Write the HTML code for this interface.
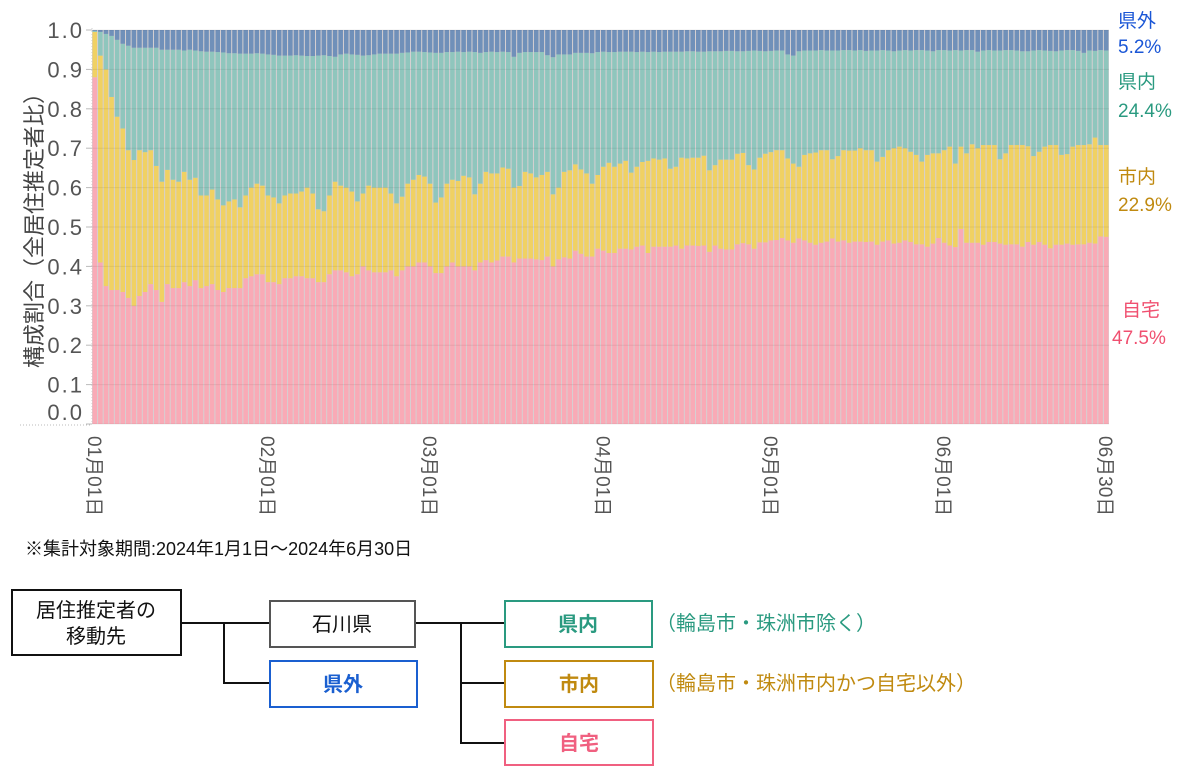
<!DOCTYPE html>
<html><head><meta charset="utf-8">
<style>
body{margin:0;background:#fff;}
svg{display:block;font-family:"Liberation Sans","Noto Sans CJK JP",sans-serif;}
</style></head>
<body>
<svg id="svg" width="1200" height="780" viewBox="0 0 1200 780">
<g id="plot"></g>
<g id="yaxis"></g>
<g id="xaxis"></g>
<text transform="translate(42,225) rotate(-90)" text-anchor="middle" font-size="22" fill="#444">構成割合（全居住推定者比）</text>
<g font-size="19">
<text x="1118" y="27" fill="#1a56d6">県外</text>
<text x="1118" y="53" fill="#1a56d6">5.2%</text>
<text x="1118" y="88" fill="#2a9a80">県内</text>
<text x="1118" y="117" fill="#2a9a80">24.4%</text>
<text x="1118" y="183" fill="#c08a10">市内</text>
<text x="1118" y="211" fill="#c08a10">22.9%</text>
<text x="1122" y="316" fill="#f05070">自宅</text>
<text x="1112" y="344" fill="#f05070">47.5%</text>
</g>
<text x="25" y="555" font-size="18" fill="#111">※集計対象期間:2024年1月1日〜2024年6月30日</text>
<g font-size="20">
<g fill="none" stroke="#111" stroke-width="2">
<path d="M181,623 H270 M224,623 V683 H270 M415,623 H505 M461,623 V743 H505 M461,683 H505"/>
</g>
<rect x="12" y="590" width="169" height="65" fill="#fff" stroke="#111" stroke-width="2"/>
<text x="96" y="617" text-anchor="middle" fill="#111">居住推定者の</text>
<text x="96" y="643" text-anchor="middle" fill="#111">移動先</text>
<rect x="270" y="601" width="145" height="46" fill="#fff" stroke="#555" stroke-width="2"/>
<text x="342" y="631" text-anchor="middle" fill="#111">石川県</text>
<rect x="270" y="661" width="147" height="46" fill="#fff" stroke="#1a5fd0" stroke-width="2"/>
<text x="343" y="691" text-anchor="middle" fill="#1a5fd0" font-weight="bold">県外</text>
<rect x="505" y="601" width="147" height="46" fill="#fff" stroke="#2a9a80" stroke-width="2"/>
<text x="578" y="631" text-anchor="middle" fill="#2a9a80" font-weight="bold">県内</text>
<rect x="505" y="661" width="148" height="46" fill="#fff" stroke="#c08a10" stroke-width="2"/>
<text x="579" y="691" text-anchor="middle" fill="#c08a10" font-weight="bold">市内</text>
<rect x="505" y="720" width="148" height="45" fill="#fff" stroke="#f06080" stroke-width="2"/>
<text x="579" y="750" text-anchor="middle" fill="#f06080" font-weight="bold">自宅</text>
<text x="656" y="630" fill="#2a9a80">（輪島市・珠洲市除く）</text>
<text x="656" y="690" fill="#c08a10">（輪島市・珠洲市内かつ自宅以外）</text>
</g>
</svg>
<script>
// cumulative shares (stack boundaries) per day, Jan 1 .. Jun 30 2024
const cumJitaku = [
0.88,0.41,0.35,0.34,0.34,0.335,0.32,0.30,0.325,0.335,
0.355,0.34,0.31,0.355,0.345,0.345,0.36,0.35,0.365,0.345,
0.35,0.355,0.34,0.335,0.345,0.345,0.345,0.37,0.375,0.38,
0.38,0.36,0.36,0.355,0.37,0.37,0.375,0.375,0.37,0.37,
0.36,0.36,0.38,0.39,0.39,0.385,0.375,0.38,0.40,0.39,
0.385,0.385,0.385,0.39,0.375,0.39,0.40,0.40,0.41,0.41,
0.40,0.383,0.383,0.40,0.41,0.40,0.40,0.40,0.39,0.41,
0.416,0.41,0.415,0.425,0.425,0.41,0.42,0.42,0.42,0.418,
0.416,0.425,0.40,0.418,0.423,0.42,0.44,0.432,0.425,0.425,
0.445,0.44,0.434,0.434,0.445,0.445,0.443,0.45,0.453,0.434,
0.45,0.45,0.45,0.45,0.453,0.445,0.453,0.453,0.452,0.453,
0.437,0.453,0.445,0.443,0.443,0.456,0.459,0.456,0.445,0.461,
0.461,0.466,0.467,0.472,0.466,0.460,0.471,0.466,0.460,0.455,
0.460,0.463,0.471,0.463,0.466,0.460,0.463,0.463,0.462,0.463,
0.455,0.463,0.466,0.458,0.460,0.466,0.462,0.456,0.456,0.450,
0.458,0.472,0.460,0.453,0.449,0.495,0.460,0.460,0.460,0.455,
0.462,0.462,0.458,0.455,0.456,0.456,0.450,0.462,0.455,0.462,
0.455,0.446,0.455,0.455,0.458,0.455,0.456,0.456,0.460,0.458,
0.476,0.475];
const cumShinai = [
0.995,0.935,0.90,0.83,0.78,0.75,0.695,0.67,0.695,0.69,
0.695,0.655,0.615,0.645,0.62,0.615,0.64,0.62,0.625,0.58,
0.58,0.595,0.57,0.555,0.565,0.57,0.55,0.58,0.60,0.61,
0.605,0.58,0.575,0.56,0.58,0.585,0.585,0.59,0.60,0.585,
0.545,0.54,0.58,0.615,0.605,0.60,0.59,0.565,0.585,0.605,
0.60,0.60,0.60,0.585,0.56,0.577,0.61,0.62,0.632,0.628,
0.61,0.562,0.575,0.61,0.62,0.617,0.63,0.626,0.583,0.61,
0.64,0.636,0.636,0.651,0.648,0.60,0.604,0.64,0.636,0.626,
0.632,0.64,0.583,0.60,0.64,0.644,0.659,0.646,0.636,0.61,
0.632,0.653,0.663,0.653,0.661,0.668,0.638,0.653,0.665,0.668,
0.674,0.671,0.674,0.648,0.653,0.676,0.674,0.676,0.676,0.681,
0.644,0.657,0.671,0.671,0.671,0.686,0.688,0.657,0.646,0.676,
0.686,0.69,0.695,0.695,0.674,0.661,0.653,0.683,0.687,0.689,
0.695,0.695,0.672,0.680,0.695,0.694,0.694,0.700,0.695,0.695,
0.666,0.678,0.695,0.700,0.704,0.700,0.691,0.683,0.666,0.683,
0.687,0.687,0.695,0.704,0.661,0.704,0.687,0.710,0.700,0.708,
0.708,0.708,0.672,0.687,0.708,0.708,0.708,0.705,0.680,0.691,
0.704,0.708,0.708,0.683,0.685,0.704,0.708,0.708,0.710,0.727,
0.708,0.708];
const cumKennai = [
0.998,0.995,0.99,0.985,0.975,0.965,0.96,0.955,0.955,0.955,
0.955,0.955,0.95,0.95,0.95,0.95,0.948,0.95,0.948,0.946,
0.945,0.945,0.944,0.943,0.941,0.941,0.94,0.94,0.94,0.941,
0.94,0.938,0.937,0.935,0.935,0.935,0.936,0.935,0.934,0.934,
0.935,0.936,0.934,0.932,0.938,0.94,0.938,0.937,0.935,0.936,
0.938,0.94,0.94,0.94,0.94,0.942,0.943,0.945,0.945,0.944,
0.943,0.942,0.942,0.944,0.944,0.945,0.944,0.945,0.944,0.942,
0.944,0.945,0.944,0.945,0.944,0.932,0.942,0.944,0.944,0.944,
0.944,0.936,0.931,0.938,0.938,0.938,0.942,0.942,0.942,0.941,
0.944,0.945,0.944,0.944,0.945,0.945,0.945,0.944,0.945,0.944,
0.945,0.944,0.945,0.945,0.945,0.945,0.946,0.946,0.945,0.945,
0.946,0.946,0.946,0.947,0.947,0.946,0.946,0.947,0.948,0.947,
0.946,0.947,0.948,0.948,0.938,0.935,0.946,0.948,0.948,0.948,
0.949,0.948,0.948,0.948,0.949,0.949,0.948,0.949,0.947,0.948,
0.948,0.949,0.948,0.946,0.948,0.949,0.948,0.949,0.949,0.948,
0.946,0.949,0.949,0.948,0.949,0.948,0.949,0.949,0.945,0.948,
0.949,0.948,0.948,0.949,0.949,0.948,0.946,0.946,0.948,0.949,
0.948,0.947,0.946,0.948,0.949,0.949,0.947,0.942,0.948,0.947,
0.949,0.948];
const yTicks = [0,0.1,0.2,0.3,0.4,0.5,0.6,0.7,0.8,0.9,1.0];
const yTickLabels = ["0.0","0.1","0.2","0.3","0.4","0.5","0.6","0.7","0.8","0.9","1.0"];
const xTickIdx = [0,31,60,91,121,152,181];
const xTickLabels = ["01月01日","02月01日","03月01日","04月01日","05月01日","06月01日","06月30日"];

const NS = "http://www.w3.org/2000/svg";
const X0 = 92, X1 = 1109, Y0 = 424, Y1 = 30;
const N = cumJitaku.length;
const bw = (X1 - X0) / N;
const yScale = v => Y0 - v * (Y0 - Y1);
const xScale = i => X0 + i * bw;
function mk(tag, attrs, parent){
  const e = document.createElementNS(NS, tag);
  for (const k in attrs) e.setAttribute(k, attrs[k]);
  parent.appendChild(e);
  return e;
}
const plot = document.getElementById('plot');
const bg = mk('rect', {x:X0, y:Y1, width:X1-X0, height:Y0-Y1, fill:'#d6d0d2'}, plot);


const colors = ['#f9aab6','#f0d163','#8fc6bd','#7090b9'];
const segNames = ['jitaku','shinai','kennai','kengai'];
for (let i = 0; i < N; i++) {
  const b = [0, cumJitaku[i], cumShinai[i], cumKennai[i], 1];
  for (let s = 0; s < 4; s++) {
    const ya = yScale(b[s+1]), yb = yScale(b[s]);
    if (yb - ya <= 0) continue;
    const r = mk('rect', {x:(xScale(i)+0.5).toFixed(2), y:ya.toFixed(2), width:(bw-1).toFixed(2), height:(yb-ya).toFixed(2), fill:colors[s]}, plot);
    
    
  }
}
const yax = document.getElementById('yaxis');
yTicks.forEach((t, k) => {
  const y = yScale(t);
  const g = mk('line', {x1:X0, x2:X1, y1:y, y2:y, stroke:'rgba(0,0,0,0.07)', 'stroke-width':1}, yax);
  
  
  const tk = mk('line', {x1:X0-6, x2:X0, y1:y, y2:y, stroke:'#bbb', 'stroke-width':1}, yax);
  
  
  const ly = t === 0 ? y - 4 : y + 8;
  const tx = mk('text', {x:84, y:ly, 'text-anchor':'end', 'font-size':22, fill:'#555', 'letter-spacing':'2'}, yax);
  tx.textContent = yTickLabels[k];
  
  
});
const ax = mk('line', {x1:X0, x2:X0, y1:Y1-2, y2:Y0, stroke:'#ccc', 'stroke-dasharray':'1,2'}, yax);


const bx = mk('line', {x1:20, x2:X0, y1:Y0+1, y2:Y0+1, stroke:'#bbb', 'stroke-dasharray':'1,2'}, yax);


const xax = document.getElementById('xaxis');
xTickIdx.forEach((idx, k) => {
  const cx = xScale(idx) + bw/2;
  const tx = mk('text', {transform:'translate(' + (cx - 7).toFixed(1) + ',436) rotate(90)', 'font-size':19, fill:'#555'}, xax);
  tx.textContent = xTickLabels[k];
  
  
});
</script>
</body></html>
